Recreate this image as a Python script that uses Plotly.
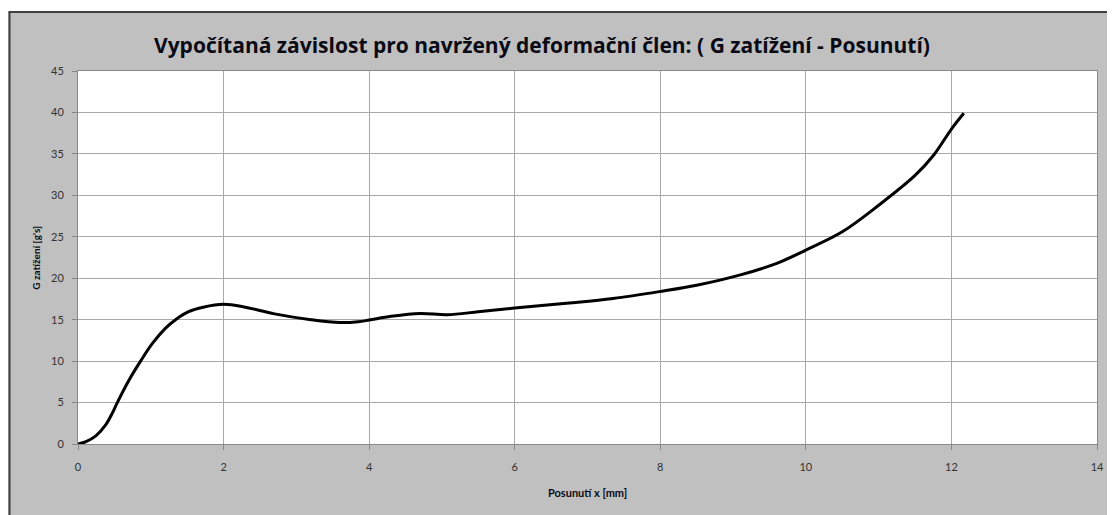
"""
Vypočítaná závislost G zatížení na posunutí - rekonstrukce grafu v Plotly.
"""
import plotly.graph_objects as go

# Odečtené body křivky: posunutí x [mm] a G zatížení [g's]
posunuti = [0, 0.11, 0.245, 0.38, 0.47, 0.54, 0.70, 0.86, 1.02, 1.2, 1.34, 1.52,
            1.72, 2.0, 2.3, 2.7, 3.2, 3.6, 3.85, 4.0, 4.3, 4.7, 5.07, 5.5, 6.0,
            6.75, 7.35, 8.0, 8.5, 9.1, 9.6, 10.0, 10.5, 11.0, 11.5, 11.76,
            12.0, 12.17]
zatizeni = [0, 0.28, 0.97, 2.3, 3.7, 5.0, 7.7, 10.0, 12.1, 13.95, 15.0, 15.96,
            16.5, 16.85, 16.5, 15.7, 15.0, 14.65, 14.75, 14.95, 15.4, 15.75, 15.6, 15.95, 16.4,
            17.0, 17.55, 18.4, 19.15, 20.4, 21.8, 23.4, 25.6, 28.8, 32.4, 34.9,
            38.0, 39.9]

x_ticks = [0, 2, 4, 6, 8, 10, 12, 14]
y_ticks = [0, 5, 10, 15, 20, 25, 30, 35, 40, 45]

title = "Vypočítaná závislost pro navržený deformační člen: ( G zatížení - Posunutí)"
font_family = "Lato, 'Open Sans', sans-serif"

fig = go.Figure()

fig.add_trace(
    go.Scatter(
        x=posunuti,
        y=zatizeni,
        mode="lines",
        line=dict(color="#000000", width=3, shape="spline", smoothing=1.0),
        showlegend=False,
    )
)

# Bílý okraj nahoře + tmavý rámeček oblasti grafu
fig.add_shape(type="rect", xref="paper", yref="paper",
              x0=-0.2, x1=1.2, y0=1.158, y1=1.3,
              fillcolor="white", line_width=0, layer="above")
fig.add_shape(type="line", xref="paper", yref="paper",
              x0=-0.0672, x1=-0.0672, y0=-0.3, y1=1.158,
              line=dict(color="#404040", width=2), layer="above")
fig.add_shape(type="line", xref="paper", yref="paper",
              x0=-0.0682, x1=1.2, y0=1.158, y1=1.158,
              line=dict(color="#404040", width=2), layer="above")

# Popisky
fig.add_annotation(
    text=f"<b>{title}</b>", xref="paper", yref="paper",
    x=0.455, y=1.07, xanchor="center", yanchor="middle", showarrow=False,
    font=dict(family="'Open Sans', sans-serif", size=21, color="#0a0a14"),
)
fig.add_annotation(
    text="<b>G zatížení [g's]</b>", xref="paper", yref="paper",
    x=-0.0419, y=0.5, xanchor="center", yanchor="middle",
    textangle=-90, showarrow=False,
    font=dict(family=font_family, size=10, color="#0a0a14"),
)
fig.add_annotation(
    text="<b>Posunutí x [mm]</b>", xref="paper", yref="paper",
    x=0.5, y=-0.131, xanchor="center", yanchor="middle", showarrow=False,
    font=dict(family=font_family, size=11, color="#0a0a14"),
)

fig.update_layout(
    width=1107,
    height=507,
    paper_bgcolor="#C0C0C0",
    plot_bgcolor="white",
    margin=dict(l=70, r=11, t=63, b=71),
    font=dict(family=font_family, size=11, color="#333333"),
)

fig.update_xaxes(
    range=[0, 14],
    tickvals=x_ticks,
    showgrid=True,
    gridcolor="#A8A8A8",
    gridwidth=1,
    showline=True,
    linecolor="#888888",
    linewidth=1,
    mirror=True,
    ticks="outside",
    ticklen=5,
    tickcolor="#888888",
    ticklabelstandoff=8,
    zeroline=False,
)
fig.update_yaxes(
    range=[0, 45],
    tickvals=y_ticks,
    showgrid=True,
    gridcolor="#A8A8A8",
    gridwidth=1,
    showline=True,
    linecolor="#888888",
    linewidth=1,
    mirror=True,
    ticks="outside",
    ticklen=5,
    tickcolor="#888888",
    ticklabelstandoff=6,
    zeroline=False,
)

fig.write_html("out.html")
